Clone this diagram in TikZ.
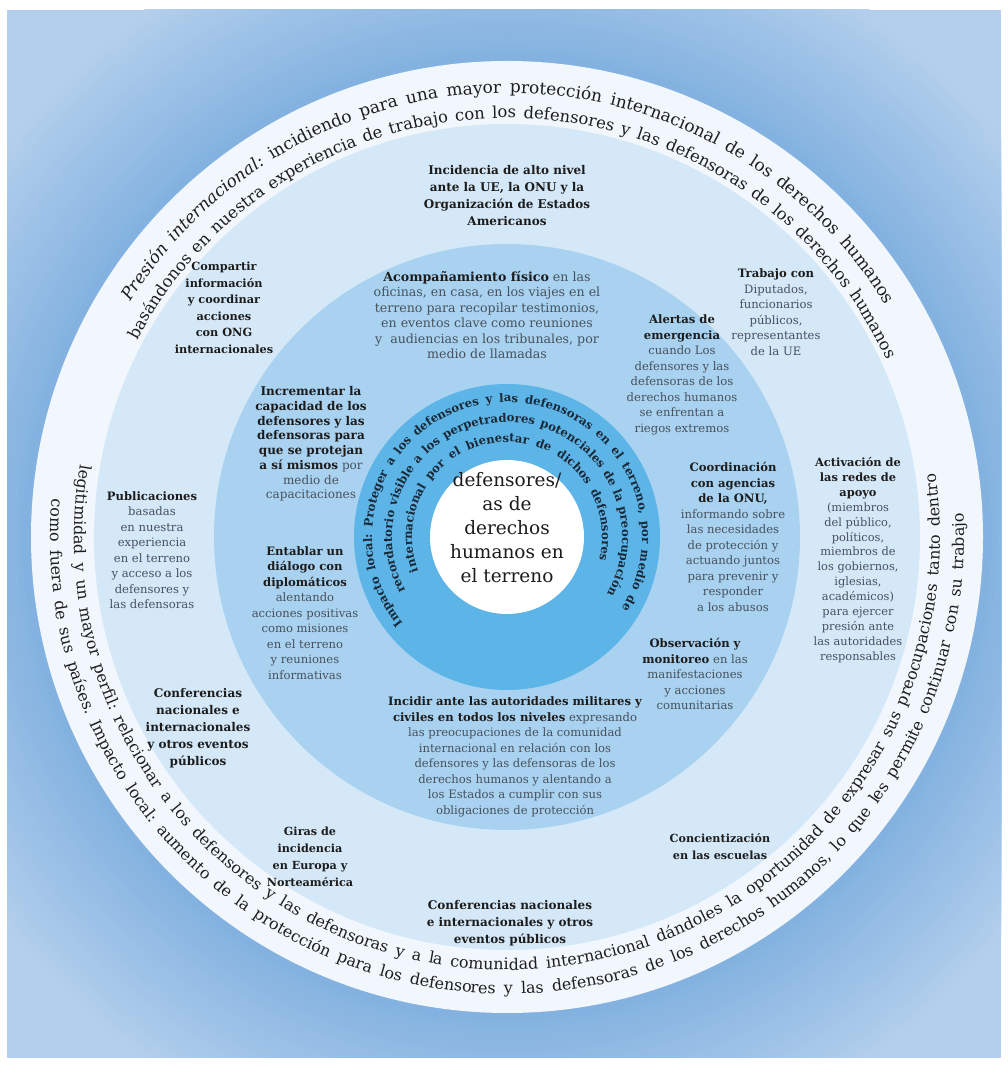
\documentclass[tikz,border=0pt]{standalone}
\usepackage{fontspec}
\setmainfont{DejaVu Serif}
\usetikzlibrary{decorations.text}
\definecolor{bglight}{HTML}{B3CFEC}
\definecolor{bgdark}{HTML}{82B1E0}
\definecolor{ringw}{HTML}{F1F7FD}
\definecolor{diskA}{HTML}{D5E8F8}
\definecolor{diskB}{HTML}{A9D2F1}
\definecolor{diskC}{HTML}{5CB4E7}
\definecolor{headc}{HTML}{1C1C1C}
\definecolor{bodyc}{HTML}{47515B}
\definecolor{ringtxt}{HTML}{1E1E1E}
\definecolor{innertxt}{HTML}{1A2938}
\newcommand\rtA{\fontsize{17}{19}\selectfont}
\newcommand\rtB{\fontsize{16.4}{19}\selectfont}
\newcommand\rtC{\fontsize{15.9}{18}\selectfont}
\newcommand\rtE{\fontsize{15.9}{18}\selectfont}
\newcommand\rtD{\fontsize{11.7}{14}\selectfont\bfseries}
\newcommand\hd[1]{{\bfseries\color{headc}#1}}
\tikzset{
  lab/.style={align=center, text=bodyc, font=\fontsize{11.6}{15.5}\selectfont, inner sep=0pt},
  boldlab/.style={align=center, text=headc, font=\fontsize{12}{17}\selectfont\bfseries, inner sep=0pt},
  centerlab/.style={align=center, text=headc, font=\fontsize{18.5}{24}\selectfont, inner sep=0pt},
}
\begin{document}
\begin{tikzpicture}[x=1pt,y=1pt]
\useasboundingbox (0,0) rectangle (1008,1068);
\coordinate (c) at (507,531);
\fill[white] (0,0) rectangle (1008,1068);
\begin{scope}
  \clip (7,10) rectangle (1001,1058);
  \fill[bglight] (7,10) rectangle (1001,1058);
  \foreach \i in {0,...,24}{
    \pgfmathtruncatemacro\pp{\i*4}
    \pgfmathsetmacro\rr{640-\i*6.5}
    \fill[bgdark!\pp!bglight] (c) circle[radius=\rr pt];
  }
\end{scope}
% rings
\fill[ringw] (c) circle[radius=476pt];
\fill[diskA] (c) circle[radius=413pt];
\fill[diskB] (c) circle[radius=293pt];
\fill[diskC] (c) circle[radius=153pt];
\fill[white] (c) circle[radius=77pt];
% outer ring curved text
\path[decorate, decoration={text along path, text color=ringtxt, text align={fit to path stretching spaces},
  text={|\rtA\itshape|Presión internacional: |\rtA|incidiendo para una mayor protección internacional de los derechos humanos}}]
  ([shift={(148:444pt)}]c) arc[start angle=148, end angle=31.5, radius=444pt];
\path[decorate, decoration={text along path, text color=ringtxt, text align={fit to path stretching spaces},
  text={|\rtB|basándonos en nuestra experiencia de trabajo con los defensores y las defensoras de los derechos humanos}}]
  ([shift={(152:419pt)}]c) arc[start angle=152, end angle=25, radius=419pt];
\path[decorate, decoration={text along path, text color=ringtxt, text align={fit to path stretching spaces},
  text={|\rtC|legitimidad y un mayor perfil: relacionar a los defensores y las defensoras y a la comunidad internacional dándoles la oportunidad de expresar sus preocupaciones tanto dentro}}]
  ([shift={(170.3:433pt)}]c) arc[start angle=170.3, end angle=368.4, radius=433pt];
\path[decorate, decoration={text along path, text color=ringtxt, text align={fit to path stretching spaces},
  text={|\rtE|como fuera de sus países. Impacto local: aumento de la protección para los defensores y las defensoras de los derechos humanos, lo que les permite continuar con su trabajo}}]
  ([shift={(175.2:457pt)}]c) arc[start angle=175.2, end angle=363, radius=457pt];
% inner ring curved text
\path[decorate, decoration={text along path, text color=innertxt, text align={fit to path stretching spaces},
  text={|\rtD|Impacto local: Proteger a los defensores y las defensoras en el terreno, por medio de}}]
  ([shift={(219.6:135pt)}]c) arc[start angle=219.6, end angle=-32, radius=135pt];
\path[decorate, decoration={text along path, text color=innertxt, text align={fit to path stretching spaces},
  text={|\rtD|recordatorio visible a los perpetradores potenciales de la preocupación}}]
  ([shift={(208:115pt)}]c) arc[start angle=208, end angle=-29.6, radius=115pt];
\path[decorate, decoration={text along path, text color=innertxt, text align={fit to path stretching spaces},
  text={|\rtD|internacional por el bienestar de dichos defensores}}]
  ([shift={(201:95pt)}]c) arc[start angle=201, end angle=-14, radius=95pt];
% center
\node[centerlab] (ctr) at (507,540) {defensores/\\as de\\derechos\\humanos en\\el terreno};
% light disk nodes
\node[boldlab] (incid) at (507,872) {Incidencia de alto nivel\\ante la UE, la ONU y la\\Organización de Estados\\Americanos};
\node[boldlab, font=\fontsize{11.3}{16.5}\selectfont\bfseries] (compart) at (224,760) {Compartir\\información\\y coordinar\\acciones\\con ONG\\internacionales};
\node[lab] (trab) at (776,756) {\hd{Trabajo con}\\Diputados,\\funcionarios\\públicos,\\representantes\\de la UE};
\node[lab] (publ) at (152,518) {\hd{Publicaciones}\\basadas\\en nuestra\\experiencia\\en el terreno\\y acceso a los\\defensores y\\las defensoras};
\node[lab, font=\fontsize{11.4}{14.9}\selectfont] (activ) at (858,508) {\hd{Activación de}\\\hd{las redes de}\\\hd{apoyo}\\(miembros\\del público,\\políticos,\\miembros de\\los gobiernos,\\iglesias,\\académicos)\\para ejercer\\presión ante\\las autoridades\\responsables};
\node[boldlab] (confl) at (198,340) {Conferencias\\nacionales e\\internacionales\\y otros eventos\\públicos};
\node[boldlab, font=\fontsize{11.2}{17}\selectfont\bfseries] (giras) at (310,211) {Giras de\\incidencia\\en Europa y\\Norteamérica};
\node[boldlab, font=\fontsize{11.2}{17}\selectfont\bfseries] (conc) at (720,221) {Concientización\\en las escuelas};
\node[boldlab] (confb) at (510,145) {Conferencias nacionales\\e internacionales y otros\\eventos públicos};
% middle disk nodes
\node[lab, font=\fontsize{12.6}{15.4}\selectfont] (acomp) at (487,753) {\hd{Acompañamiento físico} en las\\oficinas, en casa, en los viajes en el\\terreno para recopilar testimonios,\\en eventos clave como reuniones\\y\ \ audiencias en los tribunales, por\\medio de llamadas};
\node[lab] (alert) at (682,693) {\hd{Alertas de}\\\hd{emergencia}\\cuando Los\\defensores y las\\defensoras de los\\derechos humanos\\se enfrentan a\\riegos extremos};
\node[lab, font=\fontsize{12}{14.7}\selectfont] (incr) at (311,624) {\hd{Incrementar la}\\\hd{capacidad de los}\\\hd{defensores y las}\\\hd{defensoras para}\\\hd{que se protejan}\\\hd{a sí mismos} por\\medio de\\capacitaciones};
\node[lab] (entab) at (305,455) {\hd{Entablar un}\\\hd{diálogo con}\\\hd{diplomáticos}\\alentando\\acciones positivas\\como misiones\\en el terreno\\y reuniones\\informativas};
\node[lab] (coord) at (733,531) {\hd{Coordinación}\\\hd{con agencias}\\\hd{de la ONU,}\\informando sobre\\las necesidades\\de protección y\\actuando juntos\\para prevenir y\\responder\\a los abusos};
\node[lab] (obs) at (695,394) {\hd{Observación y}\\\hd{monitoreo} en las\\manifestaciones\\y acciones\\comunitarias};
\node[lab] (incidir) at (515,311) {\hd{Incidir ante las autoridades militares y}\\\hd{civiles en todos los niveles} expresando\\las preocupaciones de la comunidad\\internacional en relación con los\\defensores y las defensoras de los\\derechos humanos y alentando a\\los Estados a cumplir con sus\\obligaciones de protección};
\end{tikzpicture}
\end{document}
